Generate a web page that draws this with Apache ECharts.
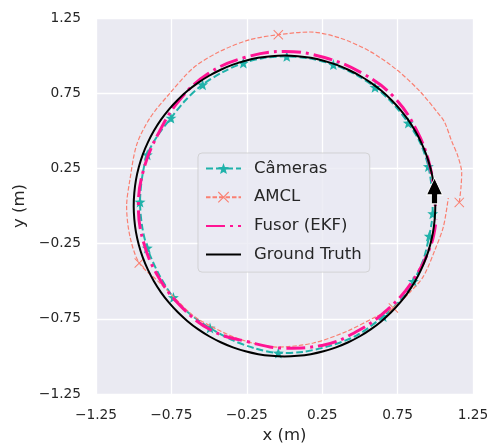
<!DOCTYPE html>
<html><head><meta charset="utf-8">
<script src="https://cdn.jsdelivr.net/npm/echarts@6/dist/echarts.min.js"></script>
<style>html,body{margin:0;padding:0;background:#fff}#c{width:491px;height:443px}</style>
</head><body><div id="c"></div>
<script>
// Tick labels
const xTicks = [-1.25, -0.75, -0.25, 0.25, 0.75, 1.25];
const yTicks = [-1.25, -0.75, -0.25, 0.25, 0.75, 1.25];
const seriesNames = ['Câmeras', 'AMCL', 'Fusor (EKF)', 'Ground Truth'];

// Câmeras trajectory
const camX = [0.983, 0.978, 0.954, 0.90, 0.821, 0.72, 0.600, 0.47, 0.324, 0.17, 0.015, -0.13, -0.273, -0.41, -0.543, -0.655, -0.753, -0.84, -0.910, -0.945, -0.958, -0.945, -0.910, -0.835, -0.737, -0.625, -0.494, -0.35, -0.20, -0.041, 0.12, 0.30, 0.48, 0.655, 0.765, 0.854, 0.92, 0.960, 0.978];
const camY = [-0.051, 0.10, 0.263, 0.42, 0.552, 0.68, 0.79, 0.875, 0.94, 0.98, 0.995, 0.985, 0.951, 0.89, 0.807, 0.705, 0.585, 0.47, 0.341, 0.185, 0.027, -0.13, -0.279, -0.45, -0.608, -0.72, -0.811, -0.89, -0.945, -0.977, -0.97, -0.93, -0.86, -0.734, -0.63, -0.501, -0.36, -0.2, -0.10];
const camMarks = [0, 2, 4, 6, 8, 10, 12, 14, 16, 18, 20, 22, 24, 26, 29, 33, 35, 37];

// AMCL trajectory
const amclX = [1.159, 1.170, 1.175, 1.150, 1.109, 1.060, 1.009, 0.898, 0.744, 0.567, 0.368, 0.169, -0.041, -0.229, -0.428, -0.605, -0.759, -0.892, -0.980, -1.025, -1.047, -1.025, -0.963, -0.826, -0.700, -0.583, -0.317, -0.052, 0.191, 0.412, 0.611, 0.722, 0.83, 0.921, 0.998, 1.054, 1.086];
const amclY = [0.024, 0.120, 0.219, 0.330, 0.430, 0.560, 0.629, 0.762, 0.906, 1.028, 1.117, 1.157, 1.139, 1.106, 1.028, 0.918, 0.751, 0.585, 0.408, 0.175, -0.003, -0.202, -0.379, -0.512, -0.640, -0.745, -0.878, -0.938, -0.911, -0.834, -0.734, -0.678, -0.575, -0.468, -0.291, -0.136, 0.053];
const amclMarks = [0, 12, 22, 31];

// Fusor (EKF) trajectory
const fusX = [1.0, 0.966, 0.875, 0.725, 0.511, 0.265, 0.0, -0.265, -0.508, -0.70, -0.836, -0.932, -0.969, -0.932, -0.831, -0.677, -0.479, -0.242, 0.0, 0.248, 0.481, 0.686, 0.853, 0.971, 1.006];
const fusY = [0.0, 0.259, 0.505, 0.725, 0.885, 0.987, 1.028, 0.987, 0.879, 0.70, 0.483, 0.250, 0.0, -0.250, -0.48, -0.677, -0.830, -0.903, -0.945, -0.927, -0.833, -0.686, -0.493, -0.260, -0.088];

// Ground truth
const gtX = [0.996, 0.985, 0.966, 0.940, 0.906, 0.866, 0.819, 0.766, 0.707, 0.643, 0.574, 0.500, 0.423, 0.342, 0.259, 0.174, 0.087, 0,
  -0.087, -0.174, -0.259, -0.342, -0.423, -0.500, -0.574, -0.643, -0.707, -0.766, -0.819, -0.866, -0.906, -0.940, -0.966, -0.985, -0.996, -1,
  -0.996, -0.985, -0.966, -0.940, -0.906, -0.866, -0.819, -0.766, -0.707, -0.643, -0.574, -0.500, -0.423, -0.342, -0.259, -0.174, -0.087, 0,
  0.087, 0.174, 0.259, 0.342, 0.423, 0.500, 0.574, 0.643, 0.707, 0.766, 0.819, 0.866, 0.906, 0.940, 0.966, 0.985, 0.996, 1, 0.996];
const gtY = [0.087, 0.174, 0.259, 0.342, 0.423, 0.500, 0.574, 0.643, 0.707, 0.766, 0.819, 0.866, 0.906, 0.940, 0.966, 0.985, 0.996, 1,
  0.996, 0.985, 0.966, 0.940, 0.906, 0.866, 0.819, 0.766, 0.707, 0.643, 0.574, 0.500, 0.423, 0.342, 0.259, 0.174, 0.087, 0,
  -0.087, -0.174, -0.259, -0.342, -0.423, -0.500, -0.574, -0.643, -0.707, -0.766, -0.819, -0.866, -0.906, -0.940, -0.966, -0.985, -0.996, -1,
  -0.996, -0.985, -0.966, -0.940, -0.906, -0.866, -0.819, -0.766, -0.707, -0.643, -0.574, -0.500, -0.423, -0.342, -0.259, -0.174, -0.087, 0, 0.087];

// Direction arrow position
const arrowPos = [[0.995, 0.10]];

const STAR = 'path://M0,-10L2.35,-3.24L9.51,-3.09L3.8,1.24L5.88,8.09L0,4.6L-5.88,8.09L-3.8,1.24L-9.51,-3.09L-2.35,-3.24Z';
const XMARK = 'path://M-5,-4.3L-4.3,-5L0,-0.7L4.3,-5L5,-4.3L0.7,0L5,4.3L4.3,5L0,0.7L-4.3,5L-5,4.3L-0.7,0Z';
const ARROW = 'path://M0,0L8,17L3,17L3,26L-3,26L-3,17L-8,17Z';
const EMPTY = 'path://M0,0L1,0L1,1Z';

function build(xs, ys, marks) {
  return xs.map((x, i) => marks.includes(i) ? [x, ys[i]] : { value: [x, ys[i]], symbol: 'none' });
}
function pairs(xs, ys) { return xs.map((x, i) => [x, ys[i]]); }
const fmt = v => v.toFixed(2).replace('-', '\u2212');
const FONT = 'DejaVu Sans';
const TXT = '#262626';

const chart = echarts.init(document.getElementById('c'), null, { renderer: 'canvas' });
chart.setOption({
  animation: false,
  backgroundColor: '#ffffff',
  grid: { left: 96, right: 18, top: 18, bottom: 49, show: true, backgroundColor: '#EAEAF2', borderWidth: 0, containLabel: false, outerBoundsMode: 'none' },
  xAxis: {
    type: 'value', min: xTicks[0], max: xTicks[xTicks.length - 1], interval: 0.5,
    name: 'x (m)', nameLocation: 'middle', nameGap: 31,
    nameTextStyle: { fontFamily: FONT, fontSize: 16.5, color: TXT },
    axisLine: { show: false }, axisTick: { show: false },
    axisLabel: { formatter: fmt, fontFamily: FONT, fontSize: 13.75, color: TXT, margin: 14 },
    splitLine: { show: true, lineStyle: { color: '#ffffff', width: 1.3 } }
  },
  yAxis: {
    type: 'value', min: yTicks[0], max: yTicks[yTicks.length - 1], interval: 0.5,
    name: 'y (m)', nameLocation: 'middle', nameGap: 64,
    nameTextStyle: { fontFamily: FONT, fontSize: 16.5, color: TXT },
    axisLine: { show: false }, axisTick: { show: false },
    axisLabel: { formatter: fmt, fontFamily: FONT, fontSize: 13.75, color: TXT, margin: 15 },
    splitLine: { show: true, lineStyle: { color: '#ffffff', width: 1.3 } }
  },
  legend: {
    data: seriesNames, orient: 'vertical', left: 198, top: 153,
    itemWidth: 35, itemHeight: 14, itemGap: 11.7, padding: [7, 8, 9, 7],
    backgroundColor: 'rgba(234,234,242,0.8)', borderColor: 'rgba(204,204,204,0.8)', borderWidth: 1, borderRadius: 4,
    textStyle: { fontFamily: FONT, fontSize: 16.5, color: TXT, padding: [0, 0, 0, 8] }
  },
  series: [
    {
      name: seriesNames[0], type: 'line', data: build(camX, camY, camMarks), smooth: 0.3,
      symbol: STAR, symbolSize: 11, showAllSymbol: true,
      lineStyle: { color: '#20B2AA', width: 2, type: [7, 3] },
      itemStyle: { color: '#20B2AA', borderWidth: 0 }, z: 2
    },
    {
      name: seriesNames[1], type: 'line', data: build(amclX, amclY, amclMarks), smooth: 0.3,
      symbol: XMARK, symbolSize: 10, showAllSymbol: true,
      lineStyle: { color: '#FA8072', width: 1.2, type: [4.5, 2] },
      itemStyle: { color: '#FA8072', borderWidth: 0 }, z: 3
    },
    {
      name: seriesNames[2], type: 'line', data: pairs(fusX, fusY), smooth: 0.4,
      symbol: EMPTY, symbolSize: 0, showSymbol: false,
      lineStyle: { color: '#FF1493', width: 3, type: [19, 5, 3, 5] },
      itemStyle: { color: 'rgba(0,0,0,0)', borderWidth: 0 }, z: 4
    },
    {
      name: seriesNames[3], type: 'line', data: pairs(gtX, gtY), smooth: 0.3,
      symbol: EMPTY, symbolSize: 0, showSymbol: false,
      lineStyle: { color: '#000000', width: 2 },
      itemStyle: { color: 'rgba(0,0,0,0)', borderWidth: 0 }, z: 5
    },
    {
      type: 'scatter', data: arrowPos, symbol: ARROW, symbolSize: [16, 26], silent: true,
      itemStyle: { color: '#000000', borderColor: '#ffffff', borderWidth: 1, opacity: 1 }, z: 10
    }
  ]
});
</script></body></html>
